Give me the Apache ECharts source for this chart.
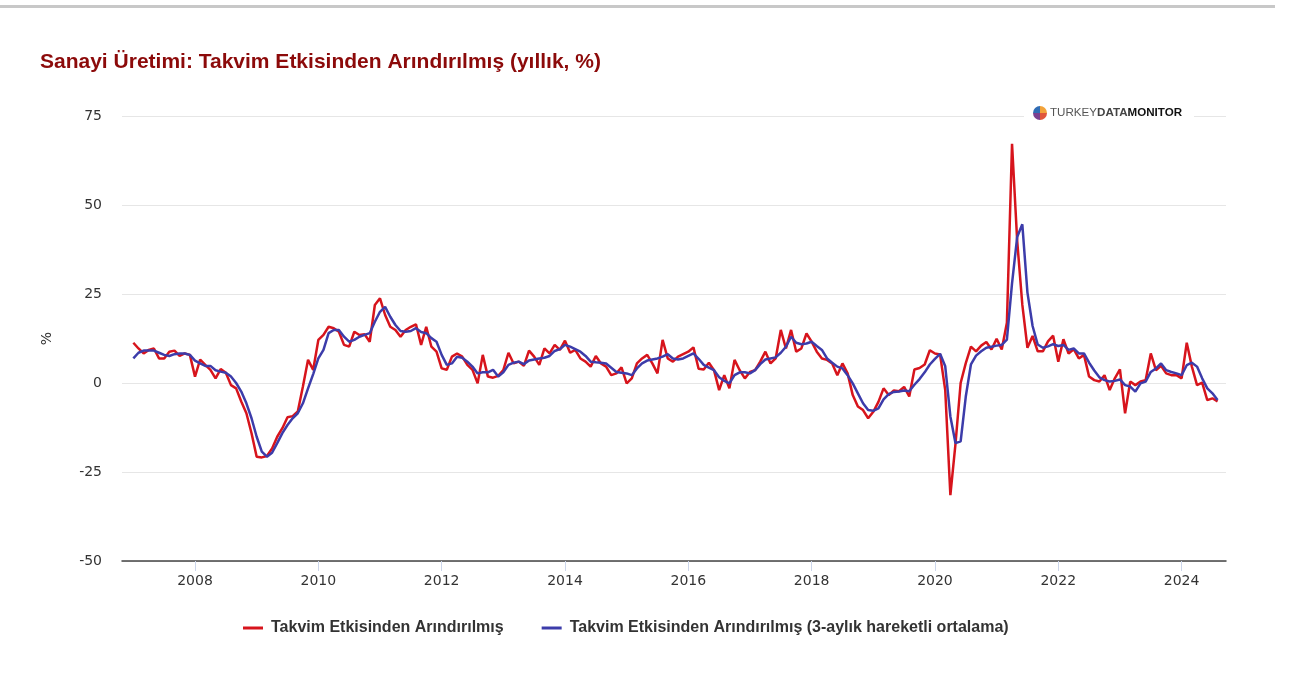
<!DOCTYPE html>
<html><head><meta charset="utf-8">
<script src="https://cdn.jsdelivr.net/npm/echarts@6/dist/echarts.min.js"></script>
<style>html,body{margin:0;padding:0;background:#fff;}#c{width:1316px;height:689px;}</style>
</head><body><div id="c"></div>
<script>
// ---- DATA ----
const firstYear = 2007; // series starts January 2007, monthly
const seriesNames = ['Takvim Etkisinden Arındırılmış', 'Takvim Etkisinden Arındırılmış (3-aylık hareketli ortalama)'];
const yearTicks = [2008, 2010, 2012, 2014, 2016, 2018, 2020, 2022, 2024];
const yTicks = [-50, -25, 0, 25, 50, 75];
const calAdj = [
11.3,9.7,8.3,9.3,9.7,6.9,6.9,8.8,9.1,7.6,8.3,7.9,
1.8,6.6,5.1,3.7,1.3,3.9,2.9,-0.6,-1.5,-5.2,-8.5,-14.1,
-20.7,-20.9,-20.5,-18.4,-15.1,-12.7,-9.6,-9.3,-8.0,-1.0,6.5,3.7,
12.1,13.5,15.8,15.4,14.4,10.7,10.2,14.4,13.5,13.7,11.6,21.9,
23.8,19.1,15.8,14.9,13.0,14.9,15.8,16.5,10.7,15.8,10.2,8.8,
4.1,3.7,7.4,8.3,7.4,5.1,3.7,-0.1,7.9,1.8,1.5,2.0,
3.6,8.5,5.5,6.0,4.8,9.1,7.4,5.1,9.7,8.3,10.7,9.3,
11.9,8.5,9.3,6.9,6.0,4.6,7.6,5.5,4.6,2.2,2.7,4.4,
-0.1,1.3,5.5,6.9,7.9,5.5,2.7,12.1,6.9,6.0,7.4,8.1,
8.8,10.0,4.0,3.8,5.7,3.6,-2.0,2.2,-1.5,6.5,3.6,1.3,
3.1,3.6,6.0,8.8,5.5,6.9,14.9,9.7,14.9,8.8,9.7,13.9,
11.6,8.8,6.9,6.5,5.5,2.2,5.5,2.7,-3.4,-6.6,-7.6,-9.9,
-8.1,-5.3,-1.5,-3.4,-2.1,-2.3,-1.1,-3.8,3.8,4.2,5.2,9.2,
8.3,8.0,-2.0,-31.5,-17.0,0.0,5.6,10.2,8.9,10.5,11.5,9.4,
12.4,9.4,16.9,67.2,40.0,22.0,9.9,13.2,8.9,8.9,11.7,13.3,
6.0,12.3,8.3,9.5,6.9,7.9,1.8,0.8,0.4,2.2,-2.0,1.3,
3.8,-8.5,0.4,-0.6,0.4,0.8,8.3,3.6,4.8,2.7,2.2,2.2,
1.3,11.3,4.6,-0.6,0.1,-4.8,-4.3,-5.2
];
const movAvg3 = [
6.9,8.5,9.1,9.1,9.1,8.5,7.9,7.6,8.1,8.3,8.3,7.9,
6.3,5.5,4.8,4.8,3.6,3.2,2.9,1.8,0.0,-2.4,-5.7,-9.9,
-15.1,-19.3,-20.7,-19.6,-16.9,-14.1,-11.8,-9.9,-8.5,-5.7,-1.5,2.5,
6.9,9.3,14.0,14.9,14.9,13.0,11.6,12.1,13.0,13.5,14.0,17.2,
20.0,21.4,18.6,16.3,14.6,14.4,14.6,15.4,14.3,14.0,12.6,11.6,
7.9,5.1,5.5,7.4,7.1,6.0,4.6,2.7,3.0,3.0,3.7,1.8,
3.0,5.1,5.7,6.0,5.3,6.3,6.6,6.9,7.1,7.6,9.0,9.5,
10.7,10.2,9.5,8.8,7.6,6.0,5.8,5.7,5.5,4.3,3.1,2.9,
2.7,2.2,4.1,5.5,6.3,6.6,6.9,7.4,8.1,6.9,6.6,6.9,
7.6,8.3,6.8,5.1,4.3,3.6,1.6,0.6,-0.1,2.2,3.0,3.0,
2.7,3.6,5.3,6.6,6.9,7.2,8.5,10.2,13.0,11.3,10.9,11.1,
11.6,10.4,9.3,6.9,5.7,4.6,4.1,2.2,-0.1,-2.9,-5.7,-7.6,
-7.8,-7.1,-4.6,-3.1,-2.5,-2.4,-2.1,-2.3,-0.5,1.1,3.0,5.2,
6.8,8.2,4.7,-9.4,-16.9,-16.4,-3.8,5.2,7.7,8.9,9.9,10.2,
10.5,10.7,12.2,28.0,41.0,44.6,25.4,16.0,10.8,9.9,10.3,10.9,
10.4,10.7,9.3,9.7,8.3,8.3,5.7,3.5,1.6,0.8,0.4,0.6,
1.0,-0.6,-1.0,-2.4,-0.1,0.4,3.1,4.1,5.5,3.6,3.1,2.7,
2.2,5.0,5.7,4.6,1.3,-1.5,-2.9,-4.8
];
// month positions as decimal years
const monthPos = calAdj.map((_, i) => firstYear + i / 12);

const chart = echarts.init(document.getElementById('c'), null, {renderer: 'canvas'});
const tickFont = 'DejaVu Sans, Verdana, sans-serif';
const boldFont = 'Liberation Sans, Arial, sans-serif';
chart.setOption({
  animation: false,
  backgroundColor: '#fff',
  title: {
    text: 'Sanayi Üretimi: Takvim Etkisinden Arındırılmış (yıllık, %)',
    left: 40, top: 52, padding: 0,
    textStyle: {color: '#8c0a0a', fontSize: 21, fontWeight: 'bold', fontFamily: boldFont}
  },
  legend: {
    left: 238, top: 615, itemGap: 38, itemWidth: 20, itemHeight: 3, icon: 'rect',
    textStyle: {color: '#333', fontSize: 16, fontWeight: 'bold', fontFamily: boldFont, padding: [0,0,0,3]},
    data: seriesNames
  },
  grid: {left: 122, right: 90, top: 116, bottom: 128, containLabel: false},
  xAxis: {
    type: 'value', min: 2006.816, max: 2024.72,
    axisLine: {show: true, onZero: false, lineStyle: {color: '#444', width: 1.5}},
    axisTick: {show: true, customValues: yearTicks, length: 10, lineStyle: {color: '#ccd6eb'}},
    axisLabel: {customValues: yearTicks, formatter: v => String(Math.round(v)), color: '#333', fontSize: 14, fontFamily: tickFont, margin: 13},
    splitLine: {show: false}
  },
  yAxis: {
    type: 'value', min: yTicks[0], max: yTicks[yTicks.length - 1], interval: 25,
    name: '%', nameLocation: 'middle', nameGap: 68, nameRotate: 90,
    nameTextStyle: {color: '#333', fontSize: 14, fontFamily: tickFont},
    axisLine: {show: false}, axisTick: {show: false},
    axisLabel: {color: '#333', fontSize: 14, fontFamily: tickFont, margin: 20},
    splitLine: {lineStyle: {color: '#e6e6e6', width: 1}}
  },
  series: [
    {name: seriesNames[0], type: 'line', showSymbol: false, data: monthPos.map((x, i) => [x, calAdj[i]]),
     lineStyle: {color: '#d7141c', width: 2.5}, itemStyle: {color: '#d7141c'}, z: 2},
    {name: seriesNames[1], type: 'line', showSymbol: false, data: monthPos.map((x, i) => [x, movAvg3[i]]),
     lineStyle: {color: '#3c3caa', width: 2.5}, itemStyle: {color: '#3c3caa'}, z: 3}
  ],
  graphic: [
    {type: 'rect', left: 0, top: 5, shape: {width: 1275, height: 3}, style: {fill: '#c8c8c8'}, silent: true},
    {type: 'group', left: 1024, top: 103, z: 100, silent: true, children: [
      {type: 'rect', shape: {x: 0, y: 0, width: 170, height: 20}, style: {fill: '#fff'}, z: 100},
      {type: 'sector', shape: {cx: 16, cy: 10, r: 7, startAngle: 0, endAngle: Math.PI * 0.5}, style: {fill: '#e0553a'}, z: 101},
      {type: 'sector', shape: {cx: 16, cy: 10, r: 7, startAngle: Math.PI * 0.5, endAngle: Math.PI}, style: {fill: '#7b3f8f'}, z: 101},
      {type: 'sector', shape: {cx: 16, cy: 10, r: 7, startAngle: Math.PI, endAngle: Math.PI * 1.5}, style: {fill: '#2f6db5'}, z: 101},
      {type: 'sector', shape: {cx: 16, cy: 10, r: 7, startAngle: Math.PI * 1.5, endAngle: Math.PI * 2}, style: {fill: '#f2a33a'}, z: 101},
      {type: 'text', x: 26, y: 4, z: 101, style: {
        text: '{a|TURKEY}{b|DATA}{c|MONITOR}',
        rich: {
          a: {fontSize: 11.6, fontFamily: boldFont, fill: '#555', color: '#555', fontWeight: 'normal'},
          b: {fontSize: 11.6, fontFamily: boldFont, fill: '#444', color: '#444', fontWeight: 'bold'},
          c: {fontSize: 11.6, fontFamily: boldFont, fill: '#111', color: '#111', fontWeight: 'bold'}
        }
      }}
    ]}
  ]
});
</script></body></html>
